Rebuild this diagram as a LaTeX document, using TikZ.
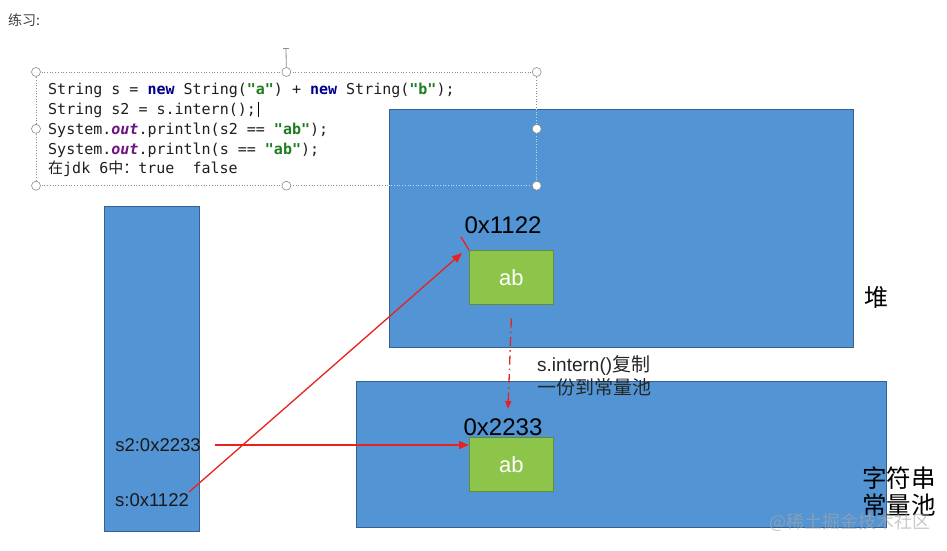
\documentclass[tikz,border=0pt]{standalone}
\usepackage{fontspec}
\setmainfont{Liberation Sans}
\newfontfamily\cjk{Noto Sans CJK SC}
\newfontfamily\codefont{DejaVu Sans Mono}
\usetikzlibrary{arrows.meta}
\definecolor{blueFill}{RGB}{83,149,212}
\definecolor{blueEdge}{RGB}{52,96,146}
\definecolor{greenFill}{RGB}{141,196,74}
\definecolor{greenEdge}{RGB}{98,140,58}
\definecolor{arrowRed}{RGB}{232,34,28}
\definecolor{kwNavy}{RGB}{0,0,140}
\definecolor{strGreen}{RGB}{30,125,30}
\definecolor{outPurple}{RGB}{110,20,130}
\definecolor{codeText}{RGB}{30,30,30}
\tikzset{
  memarea/.style={draw=blueEdge, fill=blueFill, line width=0.8pt, inner sep=0pt, anchor=north west},
  strobj/.style={draw=greenEdge, fill=greenFill, line width=0.6pt, minimum width=84pt, minimum height=54pt,
    inner sep=0pt, anchor=north west, text=white, font=\fontsize{22}{24}\selectfont},
  addr/.style={inner sep=0pt, font=\fontsize{24}{26}\selectfont, text=black},
  varlbl/.style={inner sep=0pt, font=\fontsize{18.5}{22}\selectfont, text=black!90},
  codeline/.style={inner sep=0pt, anchor=base west, text=codeText, font=\codefont\fontsize{15}{20}\selectfont},
  handle/.style={circle, draw=black!45, fill=white, line width=0.6pt, minimum size=9pt, inner sep=0pt},
  redarrow/.style={draw=arrowRed, line width=1.3pt, -{Triangle[length=10pt,width=8pt]}}
}
\newcommand{\kwnew}{\textcolor{kwNavy}{\textbf{new}}}
\newcommand{\strlit}[1]{\textcolor{strGreen}{\textbf{"#1"}}}
\newcommand{\outkw}{\textcolor{outPurple}{\textbf{\textit{out}}}}
\begin{document}
\begin{tikzpicture}[x=1pt,y=-1pt]
\useasboundingbox (0,0) rectangle (947,551);
\fill[white] (0,0) rectangle (947,551);

% title
\node[inner sep=0pt, anchor=west, text=black!75, font=\cjk\fontsize{14}{16}\selectfont] (title) at (8,20) {练习:};

% code text box frame (under the heap)
\node[draw=black!45, dotted, line width=0.7pt, minimum width=500pt, minimum height=113pt, inner sep=0pt, anchor=north west] (codebox) at (36,72) {};

% memory areas
\node[memarea, minimum width=464pt, minimum height=238pt] (heap) at (389,109) {};
\node[memarea, minimum width=530pt, minimum height=146pt] (pool) at (356,381) {};
\node[memarea, minimum width=95pt, minimum height=325pt] (stack) at (104,206) {};

% faint frame parts over the heap
\draw[white!65!blueFill, dotted, line width=0.7pt] (codebox.east |- heap.north) -- (codebox.south east) -- (codebox.south -| heap.west);

\coordinate (rot) at (286,48);
\draw[black!45, line width=0.8pt] (rot) -- (codebox.north);
\draw[black!45, line width=0.8pt] ([xshift=-3pt]rot) -- ([xshift=3pt]rot);
\foreach \a in {north west, north, north east, west, east, south west, south, south east}
  \node[handle] at (codebox.\a) {};

% code lines
\node[codeline] (l1) at (48,94) {String s = \kwnew{} String(\strlit{a}) + \kwnew{} String(\strlit{b});};
\node[codeline] (l2) at (48,114) {String s2 = s.intern();};
\node[codeline] (l3) at (48,134) {System.\outkw.println(s2 == \strlit{ab});};
\node[codeline] (l4) at (48,154) {System.\outkw.println(s == \strlit{ab});};
\node[codeline] (l5) at (48,173) {{\cjk 在}jdk 6{\cjk 中：}true\ \ false};
\draw[black, line width=0.7pt] ([xshift=2pt]l2.north east) -- ([xshift=2pt,yshift=-3pt]l2.base east);

% string objects
\node[strobj] (ab1) at (469,250) {ab};
\node[strobj] (ab2) at (469,437) {ab};
\node[addr] (a1) at (503,225) {0x1122};
\node[addr] (a2) at (503,427) {0x2233};

% area labels
\node[inner sep=0pt, font=\cjk\fontsize{24}{26}\selectfont] (heaplbl) at (876,297) {堆};
\node[inner sep=0pt, anchor=west, align=left, font=\cjk\fontsize{24.5}{27}\selectfont] (poollbl) at (862,492) {字符串\\常量池};

% stack variables
\node[varlbl] (s2) at (158,445) {s2:0x2233};
\node[varlbl] (s) at (152,500) {s:0x1122};

% intern note
\node[inner sep=0pt, anchor=west, text=black!85, font=\fontsize{19}{22}\selectfont] (note1) at (537,365) {s.intern(){\cjk 复制}};
\node[inner sep=0pt, anchor=west, text=black!85, font=\cjk\fontsize{19}{22}\selectfont] (note2) at (537,387) {一份到常量池};

% arrows
\coordinate (s2start) at ([xshift=14pt]s2.east);
\draw[redarrow] (s2start) -- (s2start -| ab2.west);
\coordinate (sstart) at ([yshift=8pt]s.east);
\coordinate (tip1) at (462,253);
\draw[redarrow] (sstart) -- (tip1);
\coordinate (p1) at (461,237);
\draw[arrowRed, line width=1.3pt] (p1) -- (ab1.north west);
\coordinate (icopy) at ([yshift=-14pt]ab1.south);
\coordinate (iend) at (508,409);
\draw[arrowRed, line width=1.3pt, dash pattern=on 9pt off 4pt on 1.5pt off 4pt, -{Triangle[length=8pt,width=6pt]}] (icopy) -- (iend);

% watermark
\node[inner sep=0pt, text=gray!70, opacity=0.6, font=\cjk\fontsize{18}{20}\selectfont] (wm) at (850,522) {@稀土掘金技术社区};
\end{tikzpicture}
\end{document}
